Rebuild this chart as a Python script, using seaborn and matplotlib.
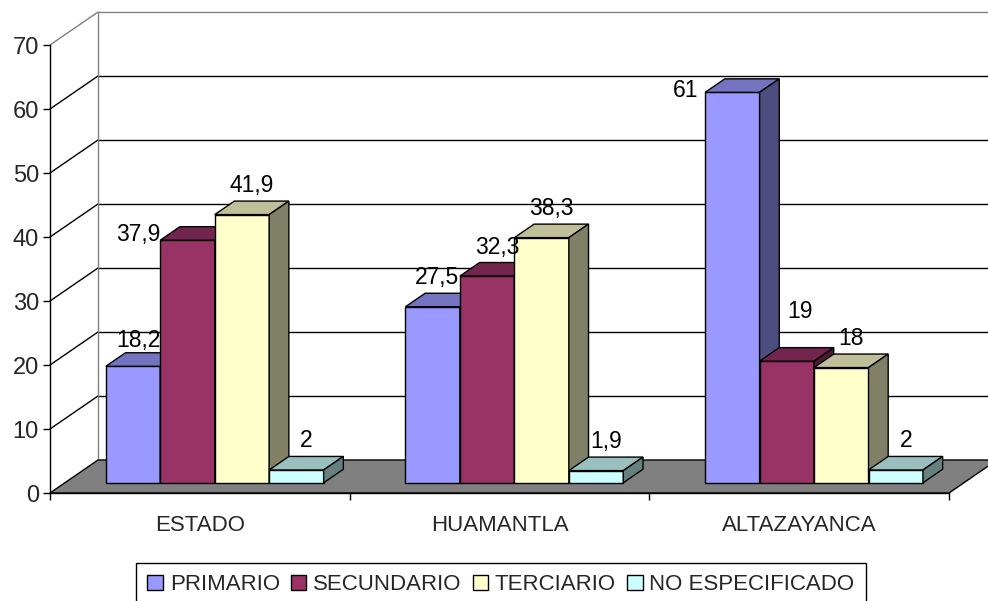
import numpy as np
import pandas as pd
import matplotlib
matplotlib.use("Agg")
import matplotlib.pyplot as plt
import seaborn as sns
from matplotlib.patches import Polygon, Patch
from matplotlib.colors import to_rgb

# ---------------- data ----------------
regions = ["ESTADO", "HUAMANTLA", "ALTAZAYANCA"]
levels = ["PRIMARIO", "SECUNDARIO", "TERCIARIO", "NO ESPECIFICADO"]
primario = [18.2, 27.5, 61]
secundario = [37.9, 32.3, 19]
terciario = [41.9, 38.3, 18]
no_especificado = [2, 1.9, 2]
y_ticks = [0, 10, 20, 30, 40, 50, 60, 70]

front_colors = ["#9999FF", "#993366", "#FFFFCC", "#CCFFFF"]

df = pd.DataFrame({
    "region": regions * 4,
    "level": [lv for lv in levels for _ in regions],
    "value": primario + secundario + terciario + no_especificado,
})

# ---------------- style ----------------
sns.set_theme(style="white")
plt.rcParams["font.family"] = ["Liberation Sans", "DejaVu Sans"]
TICK_FS = 17
CAT_FS = 16
LAB_FS = 16.5
LEG_FS = 16

W, H = 988, 601
fig = plt.figure(figsize=(W / 100, H / 100), dpi=100)
fig.patch.set_facecolor("white")

AX_L, AX_R, AX_B, AX_T = 50, 949, 493, 45
ax = fig.add_axes([AX_L / W, 1 - AX_B / H, (AX_R - AX_L) / W, (AX_B - AX_T) / H])
ax.patch.set_alpha(0)

SX = (AX_R - AX_L) / 3.0      # px per category unit
SY = (AX_B - AX_T) / 70.0     # px per value unit
DEPTH = (48.0, 33.0)          # px shift from front to back wall
D0, D1 = 0.31, 0.72           # bar front / back depth


def P(x, v, d):
    return (x + d * DEPTH[0] / SX, v + d * DEPTH[1] / SY)


sns.barplot(data=df, x="region", y="value", hue="level", order=regions,
            hue_order=levels, palette=front_colors, saturation=1, width=0.727,
            edgecolor="black", linewidth=1, ax=ax, legend=False)
ax.set_xlim(-0.5, 2.5)
ax.set_ylim(0, 70)
ax.set_xlabel("")
ax.set_ylabel("")

# ---------------- walls & floor ----------------
GRAY = "#808080"
for v in y_ticks[1:]:
    col = GRAY if v == y_ticks[-1] else "black"
    a, b = P(-0.5, v, 0), P(-0.5, v, 1)
    ax.plot([a[0], b[0]], [a[1], b[1]], color=col, lw=1, clip_on=False, zorder=1)
    c = P(2.5, v, 1)
    ax.plot([b[0], c[0]], [b[1], c[1]], color=col, lw=1, clip_on=False, zorder=1)
a, b = P(-0.5, 0, 1), P(-0.5, y_ticks[-1], 1)
ax.plot([a[0], b[0]], [a[1], b[1]], color=GRAY, lw=1, clip_on=False, zorder=1)

floor = Polygon([P(-0.5, 0, 0), P(2.5, 0, 0), P(2.5, 0, 1), P(-0.5, 0, 1)],
                closed=True, facecolor=GRAY, edgecolor="black", lw=1,
                clip_on=False, zorder=2)
ax.add_patch(floor)

# ---------------- 3D bars ----------------
label_nudge = {(0, 0): (-5, -3), (0, 1): (-59, -23), (1, 0): (-6, 0),
               (2, 0): (-57, -27), (2, 1): (3, 21)}
for j, cont in enumerate(ax.containers):
    base = np.array(to_rgb(front_colors[j]))
    for i, rect in enumerate(cont.patches):
        x0, w, h = rect.get_x(), rect.get_width(), rect.get_height()
        z = 5 + (i * 4 + j) * 0.1
        nx, ny = P(x0, 0, D0)
        rect.set_x(nx)
        rect.set_y(ny)
        rect.set_zorder(z)
        rect.set_clip_on(False)
        top = Polygon([P(x0, h, D0), P(x0 + w, h, D0), P(x0 + w, h, D1), P(x0, h, D1)],
                      closed=True, facecolor=base * 0.75, edgecolor="black",
                      lw=1, clip_on=False, zorder=z)
        side = Polygon([P(x0 + w, 0, D0), P(x0 + w, h, D0), P(x0 + w, h, D1), P(x0 + w, 0, D1)],
                       closed=True, facecolor=base * 0.5, edgecolor="black",
                       lw=1, clip_on=False, zorder=z)
        ax.add_patch(top)
        ax.add_patch(side)
        # value label
        ndx, ndy = label_nudge.get((i, j), (0, 0))
        ly = P(x0, h, D1)[1] + (4 + ndy) / SY
        lx = nx + w / 2 + (10 + ndx) / SX
        txt = f"{h:g}".replace(".", ",")
        ax.text(lx, ly, txt, ha="center", va="bottom", fontsize=LAB_FS,
                color="black", zorder=50, clip_on=False)

# ---------------- axes ----------------
for s in ["top", "right"]:
    ax.spines[s].set_visible(False)
for s in ["left", "bottom"]:
    ax.spines[s].set_visible(True)
    ax.spines[s].set_color("black")
    ax.spines[s].set_linewidth(1)
    ax.spines[s].set_zorder(3)
ax.set_yticks(y_ticks)
ax.set_yticklabels([str(t) for t in y_ticks])
ax.tick_params(axis="y", direction="out", length=5, width=1, color="black",
               pad=3, labelsize=TICK_FS, left=True)
ax.set_xticks([0, 1, 2])
ax.set_xticklabels(regions)
ax.set_xticks([-0.5, 0.5, 1.5, 2.5], minor=True)
ax.tick_params(axis="x", which="major", length=0, pad=16, labelsize=CAT_FS)
ax.tick_params(axis="x", which="minor", direction="out", length=5, width=1,
               color="black", bottom=True)
ax.grid(False)

# ---------------- legend ----------------
handles = [Patch(facecolor=c, edgecolor="black", lw=1) for c in front_colors]
leg = fig.legend(handles, levels, loc="upper center",
                 bbox_to_anchor=(501 / W, 1 - 563 / H), ncol=4,
                 frameon=True, fancybox=False, framealpha=1, edgecolor="black",
                 fontsize=LEG_FS, handlelength=0.7, handleheight=0.7,
                 handletextpad=0.3, columnspacing=0.5, borderpad=0.5,
                 borderaxespad=0)
leg.get_frame().set_linewidth(1)

fig.savefig("out.png", dpi=100)
